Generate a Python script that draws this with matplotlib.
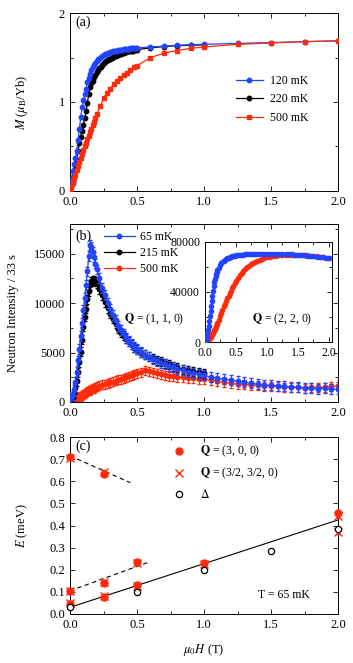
import numpy as np
import matplotlib
matplotlib.use("Agg")
import matplotlib.pyplot as plt
from matplotlib.ticker import MultipleLocator
from matplotlib.lines import Line2D

plt.rcParams['font.family'] = ['Liberation Serif', 'DejaVu Serif']
plt.rcParams['mathtext.fontset'] = 'stix'
plt.rcParams['font.size'] = 9

BLUE = '#2244ff'
RED = '#ff2a0a'

# ---------------- panel (a): magnetization ----------------
Ha_120 = [0.00, 0.01, 0.02, 0.03, 0.04, 0.05, 0.06, 0.07, 0.08, 0.09, 0.10,
          0.11, 0.12, 0.13, 0.14, 0.15, 0.16, 0.17, 0.18, 0.19, 0.20,
          0.21, 0.22, 0.23, 0.24, 0.25, 0.26, 0.27, 0.28, 0.29, 0.30,
          0.31, 0.32, 0.33, 0.34, 0.35, 0.36, 0.37, 0.38, 0.39, 0.40,
          0.41, 0.42, 0.43, 0.44, 0.45, 0.46, 0.47, 0.48, 0.49, 0.50,
          0.6, 0.7, 0.8, 0.9, 1.0, 1.25, 1.5, 1.75, 2.0]
M_120 = [0.00, 0.12, 0.22, 0.30, 0.37, 0.45, 0.57, 0.70, 0.83, 0.94, 1.02,
         1.09, 1.15, 1.22, 1.27, 1.32, 1.36, 1.39, 1.42, 1.44, 1.46,
         1.48, 1.49, 1.51, 1.52, 1.53, 1.54, 1.545, 1.55, 1.555, 1.56,
         1.565, 1.57, 1.575, 1.58, 1.58, 1.585, 1.59, 1.59, 1.59, 1.595,
         1.595, 1.60, 1.60, 1.60, 1.605, 1.605, 1.605, 1.61, 1.61, 1.61,
         1.62, 1.63, 1.64, 1.645, 1.65, 1.66, 1.67, 1.68, 1.69]

Ha_220 = [0.00, 0.01, 0.02, 0.03, 0.04, 0.05, 0.06, 0.07, 0.08, 0.09, 0.10,
          0.11, 0.12, 0.13, 0.14, 0.15, 0.16, 0.17, 0.18, 0.19, 0.20,
          0.21, 0.22, 0.23, 0.24, 0.25, 0.26, 0.27, 0.28, 0.29, 0.30,
          0.31, 0.32, 0.33, 0.34, 0.35, 0.36, 0.37, 0.38, 0.39, 0.40,
          0.41, 0.42, 0.43, 0.44, 0.45, 0.46, 0.47, 0.48, 0.49, 0.50,
          0.6, 0.7, 0.8, 0.9, 1.0]
M_220 = [0.00, 0.05, 0.10, 0.17, 0.25, 0.35, 0.45, 0.54, 0.61, 0.67, 0.74,
         0.82, 0.90, 0.99, 1.09, 1.17, 1.21, 1.24, 1.28, 1.31, 1.34,
         1.36, 1.38, 1.40, 1.42, 1.44, 1.45, 1.46, 1.47, 1.48, 1.49,
         1.50, 1.51, 1.52, 1.52, 1.53, 1.535, 1.54, 1.545, 1.55, 1.555,
         1.56, 1.565, 1.57, 1.57, 1.575, 1.58, 1.58, 1.585, 1.59, 1.59,
         1.61, 1.625, 1.635, 1.64, 1.645]

Ha_500 = [0.00, 0.01, 0.02, 0.03, 0.04, 0.05, 0.06, 0.07, 0.08, 0.09, 0.10,
          0.11, 0.12, 0.13, 0.14, 0.15, 0.16, 0.17, 0.18, 0.19, 0.20,
          0.225, 0.25, 0.275, 0.30, 0.325, 0.35, 0.375, 0.40, 0.425, 0.45,
          0.475, 0.50, 0.6, 0.7, 0.8, 0.9, 1.0, 1.25, 1.5, 1.75, 2.0]
M_500 = [0.00, 0.04, 0.09, 0.14, 0.18, 0.23, 0.28, 0.32, 0.37, 0.41, 0.46,
         0.50, 0.54, 0.58, 0.62, 0.66, 0.70, 0.74, 0.78, 0.82, 0.86,
         0.95, 1.04, 1.10, 1.15, 1.20, 1.24, 1.27, 1.30, 1.33, 1.36,
         1.39, 1.41, 1.50, 1.55, 1.58, 1.605, 1.62, 1.65, 1.665, 1.68, 1.69]

# ---------------- panel (b): neutron intensity ----------------
Hb = [0.00, 0.01, 0.02, 0.03, 0.04, 0.05, 0.06, 0.07, 0.08, 0.09, 0.10,
      0.11, 0.12, 0.13, 0.14, 0.15, 0.16, 0.17, 0.18, 0.19, 0.20,
      0.22, 0.24, 0.26, 0.28, 0.30, 0.32, 0.34, 0.36, 0.38, 0.40,
      0.42, 0.44, 0.46, 0.48, 0.50, 0.53, 0.56, 0.59, 0.62, 0.65,
      0.68, 0.71, 0.74, 0.77, 0.80, 0.84, 0.88, 0.92, 0.96, 1.00,
      1.05, 1.10, 1.15, 1.20, 1.25, 1.30, 1.35, 1.40, 1.45, 1.50,
      1.55, 1.60, 1.65, 1.70, 1.75, 1.80, 1.85, 1.90, 1.95, 2.00]
I_65 = [300, 400, 700, 1200, 2000, 3000, 4200, 5400, 6700, 8000, 9300,
        10500, 11800, 13200, 14800, 15900, 15700, 15200, 14700, 14000, 13400,
        12500, 11500, 10800, 10000, 9400, 8800, 8300, 7700, 7300, 6900,
        6500, 6200, 5900, 5600, 5400, 5100, 4800, 4600, 4300, 4100,
        3900, 3800, 3600, 3500, 3300, 3200, 3000, 2900, 2800, 2700,
        2500, 2400, 2300, 2200, 2100, 2000, 1900, 1800, 1700, 1700,
        1600, 1600, 1500, 1500, 1400, 1400, 1300, 1400, 1300, 1300]
I_215 = [200, 300, 500, 900, 1400, 2100, 3000, 4000, 5100, 6300, 7600,
         8600, 9400, 10400, 11200, 11800, 12200, 12300, 12300, 12200, 12000,
         11400, 10800, 10100, 9500, 8900, 8400, 7900, 7400, 7000, 6700,
         6400, 6100, 5800, 5500, 5300, 5000, 4800, 4600, 4400, 4200,
         4100, 3900, 3800, 3600, 3500, 3300, 3200, 3100, 3000, 2900]
I_500 = [100, 200, 250, 300, 400, 450, 500, 550, 600, 700, 800,
         900, 1000, 1100, 1150, 1200, 1300, 1350, 1400, 1450, 1550,
         1650, 1750, 1800, 1900, 2000, 2050, 2150, 2250, 2300, 2400,
         2500, 2600, 2700, 2800, 2900, 3000, 3200, 3100, 3000, 2900,
         2800, 2700, 2600, 2600, 2500, 2500, 2400, 2400, 2300, 2300,
         2200, 2100, 2000, 1900, 1800, 1800, 1700, 1700, 1600, 1600,
         1600, 1500, 1500, 1500, 1400, 1500, 1500, 1500, 1600, 1600]
err_65, err_215, err_500 = 500, 450, 450

# inset: Q = (2,2,0), intensity in thousands
I220_65 = [0, 0.5, 2, 4, 7, 10, 13, 17, 21, 25, 29,
           33, 37, 41, 45, 48, 50.5, 52.5, 54.5, 56, 57.5,
           59.5, 61.5, 63, 64, 65, 65.8, 66.5, 67, 67.5, 68,
           68.3, 68.6, 68.9, 69.1, 69.3, 69.5, 69.7, 69.9, 70, 70.1,
           70.2, 70.3, 70.3, 70.4, 70.4, 70.5, 70.5, 70.6, 70.6, 70.7,
           70.7, 70.8, 70.7, 70.6, 70.5, 70.4, 70.3, 70.1, 70.0, 69.8,
           69.6, 69.4, 69.2, 69.0, 68.7, 68.4, 68.1, 67.8, 67.5, 67.3]
I220_500 = [0, 0, 0.5, 1, 1.5, 2, 2.5, 3, 3.5, 4.2, 5,
            5.8, 6.6, 7.5, 8.5, 9.5, 10.6, 11.8, 13, 14.2, 15.5,
            18, 20.5, 23, 25.8, 28.5, 30.8, 33, 35, 37, 39,
            41, 43, 45, 47, 49, 51.5, 53.5, 55.3, 57, 58.5,
            60, 61.2, 62.3, 63.3, 64.2, 65.2, 66, 66.7, 67.3, 67.8,
            68.3, 68.8, 69.2, 69.5, 69.7, 69.9, 70, 70, 70, 70,
            69.9, 69.7, 69.5, 69.2, 68.9, 68.6, 68.3, 68, 67.6, 67.3]

# ---------------- panel (c): excitation energies ----------------
Hc_300 = [0.0, 0.25, 0.0, 0.25, 0.5, 0.0, 0.25, 0.5, 1.0, 2.0]
E_300 = [0.71, 0.635, 0.105, 0.14, 0.235, 0.045, 0.075, 0.13, 0.23, 0.455]
Hc_hh0 = [0.0, 0.25, 0.0, 0.25, 0.5, 0.0, 0.25, 0.5, 1.0, 2.0, 2.0]
E_hh0 = [0.705, 0.64, 0.105, 0.145, 0.23, 0.05, 0.08, 0.125, 0.225, 0.37, 0.445]
H_gap = [0.0, 0.5, 1.0, 1.5, 2.0]
E_gap = [0.03, 0.10, 0.20, 0.285, 0.385]
# linear guides: (intercept, slope, H start, H end)
fit_gap = (0.03, 0.1975, 0.0, 2.0)
fit_up = (0.715, -0.27, 0.0, 0.45)
fit_low = (0.105, 0.22, 0.0, 0.58)

fig = plt.figure(figsize=(3.53, 6.63), dpi=100)
L, W = 70 / 353, 268 / 353
axa = fig.add_axes([L, 1 - 190.7 / 663, W, 177.4 / 663])
axb = fig.add_axes([L, 1 - 402 / 663, W, 178 / 663])
axc = fig.add_axes([L, 1 - 614 / 663, W, 177 / 663])
axi = fig.add_axes([205 / 353, 1 - 342 / 663, 127 / 353, 100 / 663])


def style(ax, fs=9):
    ax.tick_params(which='both', direction='in', top=True, right=True,
                   labelsize=fs, width=0.6)
    ax.tick_params(which='major', length=3.5)
    ax.tick_params(which='minor', length=2)
    for s in ax.spines.values():
        s.set_linewidth(0.7)


# (a)
axa.plot(Ha_120, M_120, '-o', color=BLUE, ms=3.2, lw=0.9, label='120 mK', zorder=3)
axa.plot(Ha_220, M_220, '-o', color='black', ms=3.2, lw=0.9, label='220 mK', zorder=2)
axa.plot(Ha_500, M_500, '-s', color=RED, ms=3.2, lw=0.9, label='500 mK', zorder=4)
axa.set_xlim(0, 2)
axa.set_ylim(0, 2)
axa.xaxis.set_major_locator(MultipleLocator(0.5))
axa.xaxis.set_minor_locator(MultipleLocator(0.25))
axa.yaxis.set_major_locator(MultipleLocator(1))
axa.yaxis.set_minor_locator(MultipleLocator(0.5))
axa.set_xticklabels([f'{v:.1f}' for v in axa.get_xticks()])
style(axa)
axa.set_ylabel(r'$M$ ($\mu_{\rm B}$/Yb)', fontsize=9)
axa.yaxis.set_label_coords(-0.15, 0.5)
axa.text(0.02, 0.93, '(a)', transform=axa.transAxes, fontsize=10)
axa.legend(loc='upper left', bbox_to_anchor=(0.6, 0.68), frameon=False,
           fontsize=8.5, handlelength=2.3, handletextpad=0.6, labelspacing=0.55,
           borderaxespad=0)

# (b)
axb.errorbar(Hb[:len(I_215)], I_215, yerr=err_215, fmt='-o', color='black',
             ms=3.2, lw=0.9, capsize=1.5, elinewidth=0.7, zorder=2)
axb.errorbar(Hb, I_500, yerr=err_500, fmt='-o', color=RED,
             ms=3.2, lw=0.9, capsize=1.5, elinewidth=0.7, zorder=1)
axb.errorbar(Hb, I_65, yerr=err_65, fmt='-o', color=BLUE,
             ms=3.2, lw=0.9, capsize=1.5, elinewidth=0.7, zorder=3)
axb.set_xlim(0, 2)
axb.set_ylim(0, 18000)
axb.xaxis.set_major_locator(MultipleLocator(0.5))
axb.xaxis.set_minor_locator(MultipleLocator(0.25))
axb.yaxis.set_major_locator(MultipleLocator(5000))
axb.yaxis.set_minor_locator(MultipleLocator(2500))
axb.set_xticklabels([f'{v:.1f}' for v in axb.get_xticks()])
style(axb)
axb.set_ylabel('Neutron Intensity / 33 s', fontsize=9)
axb.yaxis.set_label_coords(-0.19, 0.5)
axb.text(0.02, 0.91, '(b)', transform=axb.transAxes, fontsize=10)
hb = [Line2D([], [], color=c, marker='o', ms=3.2, lw=0.9) for c in (BLUE, 'black', RED)]
axb.legend(hb, ['65 mK', '215 mK', '500 mK'], loc='upper left',
           bbox_to_anchor=(0.1, 1.0), frameon=False, fontsize=8.5,
           handlelength=2.6, handletextpad=0.5, labelspacing=0.35, borderaxespad=0.2)
axb.text(0.2, 0.45, r'$\mathbf{Q}$ = (1, 1, 0)', transform=axb.transAxes, fontsize=8.5)

# inset
axi.plot(Hb, I220_500, 'o', color=RED, ms=3.0, zorder=2)
axi.plot(Hb, I220_65, 'o', color=BLUE, ms=3.0, zorder=3)
axi.set_xlim(0, 2.05)
axi.set_ylim(0, 80)
axi.xaxis.set_major_locator(MultipleLocator(0.5))
axi.xaxis.set_minor_locator(MultipleLocator(0.25))
axi.yaxis.set_major_locator(MultipleLocator(40))
axi.yaxis.set_minor_locator(MultipleLocator(20))
axi.set_xticklabels([f'{v:.1f}' for v in axi.get_xticks()])
axi.set_yticklabels([f'{int(v * 1000)}' for v in axi.get_yticks()])
style(axi, fs=8.5)
axi.text(0.37, 0.2, r'$\mathbf{Q}$ = (2, 2, 0)', transform=axi.transAxes, fontsize=8.5)

# (c)
hx = np.linspace(fit_gap[2], fit_gap[3], 2)
axc.plot(hx, fit_gap[0] + fit_gap[1] * hx, '-', color='black', lw=0.8)
hx = np.linspace(fit_up[2], fit_up[3], 2)
axc.plot(hx, fit_up[0] + fit_up[1] * hx, '--', color='black', lw=0.8, dashes=(4, 3))
hx = np.linspace(fit_low[2], fit_low[3], 2)
axc.plot(hx, fit_low[0] + fit_low[1] * hx, '--', color='black', lw=0.8, dashes=(4, 3))
axc.errorbar(Hc_300, E_300, yerr=0.01, fmt='o', color=RED, ms=5, capsize=1.5,
             elinewidth=0.7, zorder=3, clip_on=False)
axc.errorbar(Hc_hh0, E_hh0, yerr=0.01, fmt='x', color=RED, ms=6, mew=1.0,
             capsize=1.5, elinewidth=0.7, zorder=3, clip_on=False)
axc.plot(H_gap, E_gap, 'o', mfc='white', mec='black', ms=4.5, mew=0.9,
         zorder=4, clip_on=False)
axc.set_xlim(0, 2)
axc.set_ylim(0, 0.8)
axc.xaxis.set_major_locator(MultipleLocator(0.5))
axc.xaxis.set_minor_locator(MultipleLocator(0.25))
axc.yaxis.set_major_locator(MultipleLocator(0.1))
axc.set_xticklabels([f'{v:.1f}' for v in axc.get_xticks()])
axc.set_yticklabels([f'{v:.1f}' for v in axc.get_yticks()])
style(axc)
axc.set_ylabel(r'$E$ (meV)', fontsize=9)
axc.yaxis.set_label_coords(-0.15, 0.5)
axc.set_xlabel(r'$\mu_0H$ (T)', fontsize=9)
axc.xaxis.set_label_coords(0.5, -0.16)
axc.text(0.02, 0.93, '(c)', transform=axc.transAxes, fontsize=10)
axc.text(0.70, 0.09, 'T = 65 mK', transform=axc.transAxes, fontsize=8.5)
hc = [Line2D([], [], ls='none', marker='o', color=RED, ms=5),
      Line2D([], [], ls='none', marker='x', color=RED, ms=6, mew=1.0),
      Line2D([], [], ls='none', marker='o', mfc='white', mec='black', ms=4.5, mew=0.9)]
axc.legend(hc, [r'$\mathbf{Q}$ = (3, 0, 0)', r'$\mathbf{Q}$ = (3/2, 3/2, 0)', r'$\Delta$'],
           loc='upper left', bbox_to_anchor=(0.36, 1.0), frameon=False,
           fontsize=8.5, handlelength=1.0, handletextpad=1.2, labelspacing=0.55,
           borderaxespad=0.2)

fig.savefig('out.png', dpi=100)
